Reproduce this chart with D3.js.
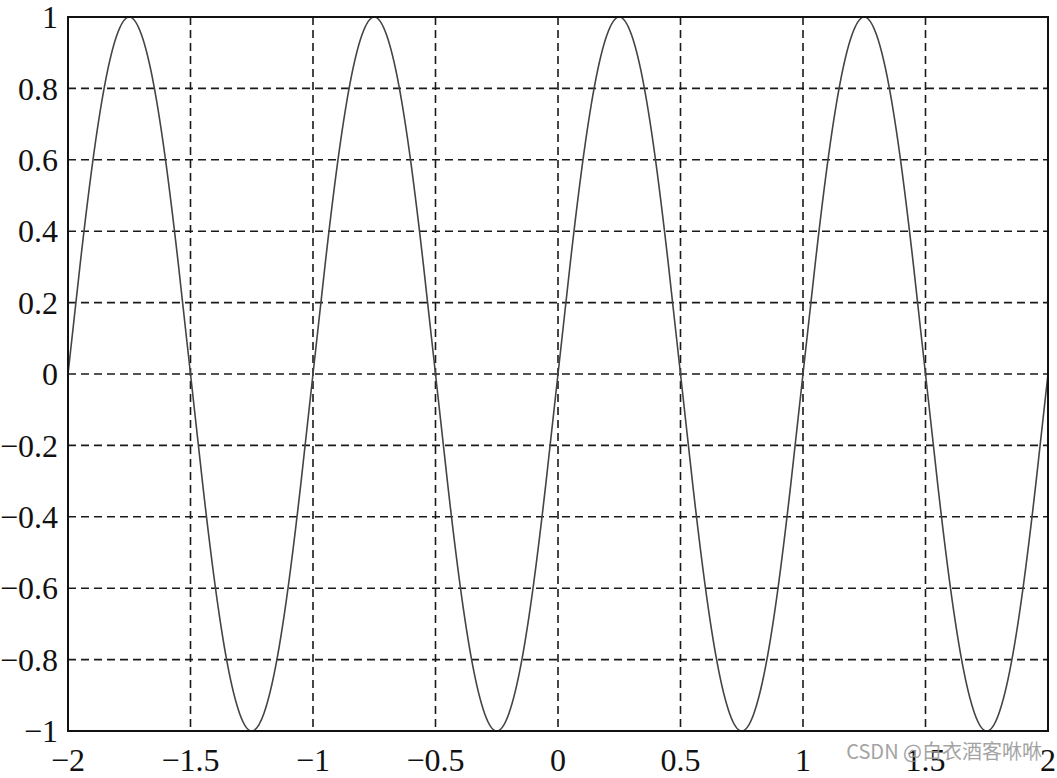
<!DOCTYPE html>
<html lang="zh">
<head>
    <meta charset="UTF-8">
    <title>sin(2πx)</title>
    <script src="https://d3js.org/d3.v7.min.js"></script>
    <style>
        body {
            margin: 0;
            padding: 0;
            background-color: #ffffff;
        }
        svg {
            display: block;
        }
        .tick-label {
            font-family: "Liberation Serif", "DejaVu Serif", serif;
            font-size: 32px;
            fill: #111;
        }
        .watermark {
            font-family: "Noto Sans CJK SC", "Noto Sans", sans-serif;
            font-size: 20px;
            fill: #9a9a9a;
            opacity: 0.9;
        }
    </style>
</head>
<body>
    <svg></svg>
    <script>
        // sample positions along x
        const xs = [
            -2, -1.95, -1.9, -1.85, -1.8, -1.75, -1.7, -1.65, -1.6, -1.55,
            -1.5, -1.45, -1.4, -1.35, -1.3, -1.25, -1.2, -1.15, -1.1, -1.05,
            -1, -0.95, -0.9, -0.85, -0.8, -0.75, -0.7, -0.65, -0.6, -0.55,
            -0.5, -0.45, -0.4, -0.35, -0.3, -0.25, -0.2, -0.15, -0.1, -0.05,
            0, 0.05, 0.1, 0.15, 0.2, 0.25, 0.3, 0.35, 0.4, 0.45,
            0.5, 0.55, 0.6, 0.65, 0.7, 0.75, 0.8, 0.85, 0.9, 0.95,
            1, 1.05, 1.1, 1.15, 1.2, 1.25, 1.3, 1.35, 1.4, 1.45,
            1.5, 1.55, 1.6, 1.65, 1.7, 1.75, 1.8, 1.85, 1.9, 1.95,
            2
        ];
        // curve values
        const ys = [
            0, 0.31, 0.59, 0.81, 0.95, 1, 0.95, 0.81, 0.59, 0.31,
            0, -0.31, -0.59, -0.81, -0.95, -1, -0.95, -0.81, -0.59, -0.31,
            0, 0.31, 0.59, 0.81, 0.95, 1, 0.95, 0.81, 0.59, 0.31,
            0, -0.31, -0.59, -0.81, -0.95, -1, -0.95, -0.81, -0.59, -0.31,
            0, 0.31, 0.59, 0.81, 0.95, 1, 0.95, 0.81, 0.59, 0.31,
            0, -0.31, -0.59, -0.81, -0.95, -1, -0.95, -0.81, -0.59, -0.31,
            0, 0.31, 0.59, 0.81, 0.95, 1, 0.95, 0.81, 0.59, 0.31,
            0, -0.31, -0.59, -0.81, -0.95, -1, -0.95, -0.81, -0.59, -0.31,
            0
        ];
        const xTicks = [-2, -1.5, -1, -0.5, 0, 0.5, 1, 1.5, 2];
        const yTicks = [-1, -0.8, -0.6, -0.4, -0.2, 0, 0.2, 0.4, 0.6, 0.8, 1];

        const width = 1057, height = 778;
        const margin = { top: 17, right: 9, bottom: 47, left: 68 };
        const innerW = width - margin.left - margin.right;
        const innerH = height - margin.top - margin.bottom;

        const svg = d3.select("svg").attr("width", width).attr("height", height);
        const g = svg.append("g").attr("transform", `translate(${margin.left},${margin.top})`);

        const x = d3.scaleLinear().domain([-2, 2]).range([0, innerW]);
        const y = d3.scaleLinear().domain([-1, 1]).range([innerH, 0]);

        const fmt = v => String(v).replace("-", "\u2212");

        // dashed grid
        g.append("g")
            .selectAll("line")
            .data(xTicks.slice(1, -1))
            .join("line")
            .attr("x1", d => x(d)).attr("x2", d => x(d))
            .attr("y1", 0).attr("y2", innerH)
            .attr("stroke", "#1a1a1a")
            .attr("stroke-width", 1.6)
            .attr("stroke-dasharray", "8,5");

        g.append("g")
            .selectAll("line")
            .data(yTicks.slice(1, -1))
            .join("line")
            .attr("y1", d => y(d)).attr("y2", d => y(d))
            .attr("x1", 0).attr("x2", innerW)
            .attr("stroke", "#1a1a1a")
            .attr("stroke-width", 1.6)
            .attr("stroke-dasharray", "8,5");

        // the curve
        const line = d3.line()
            .x(d => x(d[0]))
            .y(d => y(d[1]))
            .curve(d3.curveNatural);

        g.append("path")
            .datum(d3.zip(xs, ys))
            .attr("fill", "none")
            .attr("stroke", "#444")
            .attr("stroke-width", 1.6)
            .attr("d", line);

        // frame
        g.append("rect")
            .attr("width", innerW)
            .attr("height", innerH)
            .attr("fill", "none")
            .attr("stroke", "#111")
            .attr("stroke-width", 2);

        // tick labels
        g.append("g")
            .selectAll("text")
            .data(yTicks)
            .join("text")
            .attr("class", "tick-label")
            .attr("x", -10)
            .attr("y", d => y(d))
            .attr("dy", "0.35em")
            .attr("text-anchor", "end")
            .text(fmt);

        g.append("g")
            .selectAll("text")
            .data(xTicks)
            .join("text")
            .attr("class", "tick-label")
            .attr("x", d => x(d))
            .attr("y", innerH + 40)
            .attr("text-anchor", "middle")
            .text(fmt);

        svg.append("text")
            .attr("class", "watermark")
            .attr("x", 1042)
            .attr("y", 759)
            .attr("text-anchor", "end")
            .text("CSDN @白衣酒客咻咻");
    </script>
</body>
</html>
